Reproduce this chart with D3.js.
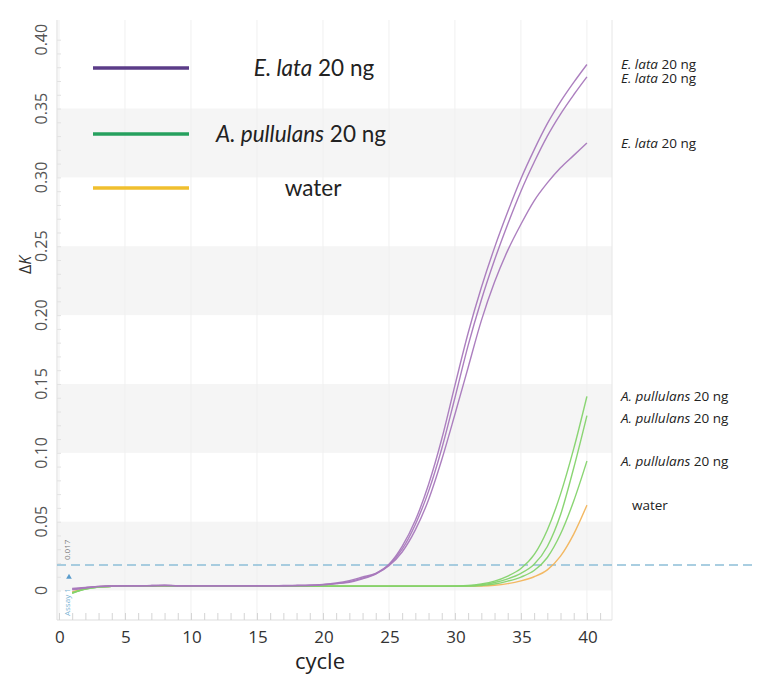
<!DOCTYPE html>
<html>
<head>
<meta charset="utf-8">
<script src="https://cdn.jsdelivr.net/npm/d3@7"></script>
<style>
  body { margin: 0; background: #fff; }
  svg { display: block; }
  .tick-y { font-family: "Open Sans", sans-serif; font-size: 16px; fill: #555; }
  .tick-x { font-family: "Open Sans", sans-serif; font-size: 17px; fill: #333; }
  .lbl { font-family: Lato, sans-serif; fill: #222; }
  .end-lbl { font-family: "Open Sans", sans-serif; fill: #222; font-size: 13.5px; }
</style>
</head>
<body>
<div id="chart"></div>
<script>

  // cycles 1..40
  var cycles = d3.range(1, 41);

  var eLata1 = [0.001, 0.002, 0.003, 0.0033, 0.0035, 0.0035, 0.0036, 0.0038, 0.0035, 0.0034,
    0.0034, 0.0034, 0.0034, 0.0034, 0.0035, 0.0035, 0.0036, 0.0037, 0.0039, 0.0045,
    0.0055, 0.0072, 0.0098, 0.0125, 0.019, 0.032, 0.051, 0.077, 0.110, 0.149,
    0.187, 0.220, 0.249, 0.275, 0.299, 0.320, 0.339, 0.355, 0.369, 0.382];
  var eLata2 = [0.0015, 0.0022, 0.003, 0.0034, 0.0035, 0.0035, 0.0036, 0.0037, 0.0035, 0.0034,
    0.0034, 0.0034, 0.0034, 0.0034, 0.0035, 0.0035, 0.0035, 0.0036, 0.0038, 0.0043,
    0.005, 0.0065, 0.009, 0.0122, 0.0185, 0.030, 0.048, 0.072, 0.103, 0.140,
    0.178, 0.211, 0.240, 0.266, 0.290, 0.311, 0.330, 0.346, 0.360, 0.373];
  var eLata3 = [0.0005, 0.0018, 0.0028, 0.0032, 0.0034, 0.0035, 0.0035, 0.0036, 0.0035, 0.0034,
    0.0034, 0.0034, 0.0034, 0.0034, 0.0034, 0.0035, 0.0035, 0.0036, 0.0037, 0.0042,
    0.005, 0.006, 0.0085, 0.012, 0.018, 0.028, 0.044, 0.066, 0.095, 0.128,
    0.162, 0.196, 0.224, 0.247, 0.266, 0.283, 0.296, 0.307, 0.316, 0.325];

  var aPull1 = [-0.002, 0.001, 0.0025, 0.003, 0.0032, 0.0033, 0.0033, 0.0034, 0.0033, 0.0032,
    0.0032, 0.0032, 0.0032, 0.0032, 0.0032, 0.0032, 0.0032, 0.0032, 0.0032, 0.0032,
    0.0032, 0.0032, 0.0032, 0.0032, 0.0032, 0.0032, 0.0032, 0.0032, 0.0032, 0.0033,
    0.0036, 0.0047, 0.0068, 0.0105, 0.016, 0.026, 0.044, 0.070, 0.103, 0.141];
  var aPull2 = [-0.0015, 0.0012, 0.0026, 0.003, 0.0032, 0.0033, 0.0033, 0.0034, 0.0033, 0.0032,
    0.0032, 0.0032, 0.0032, 0.0032, 0.0032, 0.0032, 0.0032, 0.0032, 0.0032, 0.0032,
    0.0032, 0.0032, 0.0032, 0.0032, 0.0032, 0.0032, 0.0032, 0.0032, 0.0032, 0.0032,
    0.0034, 0.0042, 0.0058, 0.0085, 0.0125, 0.019, 0.032, 0.055, 0.089, 0.127];
  var aPull3 = [-0.0018, 0.0011, 0.0025, 0.003, 0.0032, 0.0033, 0.0033, 0.0034, 0.0033, 0.0032,
    0.0032, 0.0032, 0.0032, 0.0032, 0.0032, 0.0032, 0.0032, 0.0032, 0.0032, 0.0032,
    0.0032, 0.0032, 0.0032, 0.0032, 0.0032, 0.0032, 0.0032, 0.0032, 0.0032, 0.0032,
    0.0032, 0.0036, 0.0047, 0.0068, 0.0098, 0.0145, 0.024, 0.041, 0.065, 0.094];
  var water = [-0.001, 0.0015, 0.0028, 0.003, 0.0032, 0.0032, 0.0033, 0.0033, 0.0032, 0.0032,
    0.0032, 0.0032, 0.0032, 0.0032, 0.0032, 0.0032, 0.0032, 0.0032, 0.0032, 0.0032,
    0.0032, 0.0032, 0.0032, 0.0032, 0.0032, 0.0032, 0.0032, 0.0032, 0.0032, 0.0032,
    0.0032, 0.0033, 0.0038, 0.005, 0.007, 0.010, 0.015, 0.025, 0.041, 0.062];

  var threshold = 0.017;
  var xTicks = [0, 5, 10, 15, 20, 25, 30, 35, 40];
  var yTicks = [0, 0.05, 0.10, 0.15, 0.20, 0.25, 0.30, 0.35, 0.40];
  var yTickLabels = ['0', '0.05', '0.10', '0.15', '0.20', '0.25', '0.30', '0.35', '0.40'];
  var bands = [[0, 0.05], [0.10, 0.15], [0.20, 0.25], [0.30, 0.35]];

  var series = [
    { name: 'E. lata', values: eLata1, group: 'e' },
    { name: 'E. lata', values: eLata2, group: 'e' },
    { name: 'E. lata', values: eLata3, group: 'e' },
    { name: 'A. pullulans', values: aPull1, group: 'a' },
    { name: 'A. pullulans', values: aPull2, group: 'a' },
    { name: 'A. pullulans', values: aPull3, group: 'a' },
    { name: 'water', values: water, group: 'w' }
  ];

  var legendItems = [
    { italic: 'E. lata', rest: ' 20 ng', color: '#5b3c88' },
    { italic: 'A. pullulans', rest: ' 20 ng', color: '#26a05e' },
    { italic: '', rest: 'water', color: '#f0bf2e' }
  ];

  var curveColors = { e: '#a878bc', a: '#84d36c', w: '#f2b45a' };


  var width = 758, height = 675;
  var plot = { left: 57, right: 612, top: 20, bottom: 620 };

  var svg = d3.select('#chart')
    .append('svg')
    .attr('width', width)
    .attr('height', height);

  var x = d3.scaleLinear().domain([-0.15, 41.9]).range([plot.left, plot.right]);
  var y = d3.scaleLinear().domain([-0.0214, 0.4143]).range([plot.bottom, plot.top]);

  // alternating bands
  svg.selectAll('.band')
    .data(bands)
    .enter()
    .append('rect')
    .attr('x', plot.left)
    .attr('width', plot.right - plot.left)
    .attr('y', function (d) { return y(d[1]); })
    .attr('height', function (d) { return y(d[0]) - y(d[1]); })
    .style('fill', '#f5f5f5');

  // faint vertical grid
  svg.selectAll('.vgrid')
    .data(xTicks)
    .enter()
    .append('line')
    .attr('x1', function (d) { return x(d); })
    .attr('x2', function (d) { return x(d); })
    .attr('y1', plot.top)
    .attr('y2', plot.bottom)
    .style('stroke', '#f0f0f0');

  // frame
  svg.append('line')
    .attr('x1', plot.left).attr('x2', plot.left)
    .attr('y1', plot.top).attr('y2', plot.bottom)
    .style('stroke', '#ddd');
  svg.append('line')
    .attr('x1', plot.right).attr('x2', plot.right)
    .attr('y1', plot.top).attr('y2', plot.bottom)
    .style('stroke', '#e6e6e6');
  svg.append('line')
    .attr('x1', plot.left).attr('x2', plot.right)
    .attr('y1', plot.bottom).attr('y2', plot.bottom)
    .style('stroke', '#ddd');

  // minor ticks
  var xAxis = d3.axisTop(x).tickValues(d3.range(0, 42)).tickSize(7).tickFormat('');
  var gx = svg.append('g').attr('transform', 'translate(0,' + plot.bottom + ')').call(xAxis);
  gx.select('.domain').remove();
  gx.selectAll('line').style('stroke', '#d4d4d4');

  var yAxis = d3.axisRight(y).tickValues(d3.range(0, 0.41, 0.01)).tickSize(4).tickFormat('');
  var gy = svg.append('g').attr('transform', 'translate(' + plot.left + ',0)').call(yAxis);
  gy.select('.domain').remove();
  gy.selectAll('line').style('stroke', '#e2e2e2');

  // tick labels
  svg.selectAll('.tick-x')
    .data(xTicks)
    .enter()
    .append('text')
    .classed('tick-x', true)
    .attr('x', function (d) { return x(d) + 1; })
    .attr('y', 643)
    .attr('text-anchor', 'middle')
    .text(function (d) { return d; });

  svg.selectAll('.tick-y')
    .data(yTicks)
    .enter()
    .append('text')
    .classed('tick-y', true)
    .attr('transform', function (d) { return 'translate(47,' + y(d) + ') rotate(-90)'; })
    .attr('text-anchor', 'middle')
    .text(function (d, i) { return yTickLabels[i]; });

  svg.append('text')
    .attr('x', 320)
    .attr('y', 669)
    .attr('text-anchor', 'middle')
    .style('font-family', '"Open Sans", sans-serif')
    .style('font-size', '22px')
    .style('fill', '#222')
    .text('cycle');

  var yTitle = svg.append('text')
    .attr('transform', 'translate(31,265) rotate(-90)')
    .attr('text-anchor', 'middle')
    .style('font-family', '"Open Sans", sans-serif')
    .style('font-size', '16px')
    .style('fill', '#333');
  yTitle.append('tspan').text('\u0394');
  yTitle.append('tspan').style('font-style', 'italic').text('K');

  // threshold
  svg.append('line')
    .attr('x1', plot.left)
    .attr('x2', 752)
    .attr('y1', y(threshold) - 2)
    .attr('y2', y(threshold) - 2)
    .style('stroke', '#8dbfd8')
    .style('stroke-width', 1.5)
    .style('stroke-dasharray', '9,5');

  svg.append('text')
    .attr('transform', 'translate(70,' + (y(threshold) - 7) + ') rotate(-90)')
    .style('font-family', '"Open Sans", sans-serif')
    .style('font-size', '8px')
    .style('fill', '#777')
    .text(threshold);

  svg.append('text')
    .attr('transform', 'translate(70,' + (plot.bottom - 4) + ') rotate(-90)')
    .style('font-family', '"Open Sans", sans-serif')
    .style('font-size', '8px')
    .style('fill', '#7ab4d4')
    .text('Assay 1');

  svg.append('path')
    .attr('d', d3.symbol().type(d3.symbolTriangle).size(14))
    .attr('transform', 'translate(69,' + (y(threshold) + 10) + ')')
    .style('fill', '#5a9ccc');

  // curves
  var line = d3.line()
    .x(function (d, i) { return x(cycles[i]); })
    .y(function (d) { return y(d); })
    .curve(d3.curveMonotoneX);

  var order = [6, 3, 4, 5, 0, 1, 2];
  order.forEach(function (i) {
    var s = series[i];
    svg.append('path')
      .attr('d', line(s.values))
      .style('fill', 'none')
      .style('stroke', curveColors[s.group])
      .style('stroke-width', 1.4)
      .style('opacity', 0.95);
  });

  // end labels
  var labelOffsets = [0, 1, 0, 0, 2, 0, 0];
  series.forEach(function (s, i) {
    var last = s.values[s.values.length - 1];
    var t = svg.append('text')
      .classed('end-lbl', true)
      .attr('x', s.group === 'w' ? 632 : 621)
      .attr('y', y(last) + 5 + labelOffsets[i]);
    if (s.group !== 'w') {
      t.append('tspan').style('font-style', 'italic').text(s.name);
      t.append('tspan').text(' 20 ng');
    } else {
      t.text(s.name);
    }
  });

  // legend
  var legendY = [68, 134, 188];
  var legendX = [314, 301, 313];
  legendItems.forEach(function (d, i) {
    svg.append('line')
      .attr('x1', 93).attr('x2', 189)
      .attr('y1', legendY[i]).attr('y2', legendY[i])
      .style('stroke', d.color)
      .style('stroke-width', 3.5);
    var t = svg.append('text')
      .classed('lbl', true)
      .attr('x', legendX[i])
      .attr('y', legendY[i] + 8)
      .attr('text-anchor', 'middle')
      .style('font-size', '22.5px');
    if (d.italic) t.append('tspan').style('font-style', 'italic').text(d.italic);
    t.append('tspan').text(d.rest);
  });

</script>
</body>
</html>
